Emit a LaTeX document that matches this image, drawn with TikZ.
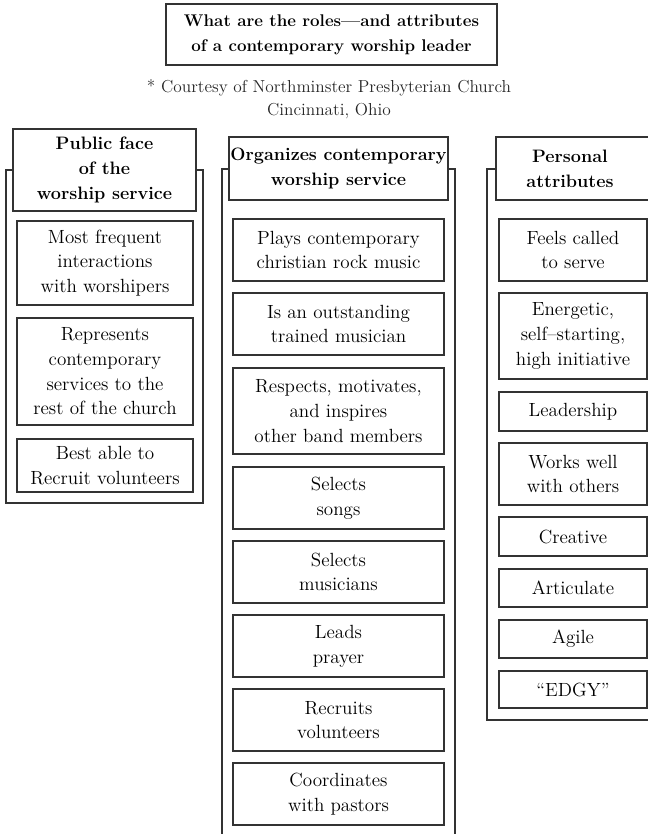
\documentclass[tikz,border=0pt]{standalone}
\tikzset{
  ln/.style={draw=black!80, line width=0.8pt},
  itm/.style={ln, fill=white, inner sep=0pt, align=center, font=\fontsize{14.3}{18.5}\selectfont},
  hdr/.style={itm, font=\bfseries\fontsize{13.5}{18.5}\selectfont},
  ttl/.style={itm, font=\bfseries\fontsize{12.7}{19}\selectfont},
  lbl/.style={inner sep=0pt, align=center, font=\bfseries\fontsize{13.5}{18.5}\selectfont},
  note/.style={inner sep=0pt, align=center, font=\fontsize{13}{17}\selectfont, text=black!85}
}
\newcommand\bx[7][itm]{\node[#1, minimum width={(#5-#3)*0.75pt}, minimum height={(#6-#4)*0.75pt}] (#2) at ({(#3+#5)/2},{(#4+#6)/2}) {#7};}
\begin{document}
\begin{tikzpicture}[x=0.75pt,y=-0.75pt]
\useasboundingbox (0,0) rectangle (648,834);
\clip (0,0) rectangle (648,834);
% title
\bx[ttl]{title}{166}{4}{497}{65}{What are the roles---and attributes\\of a contemporary worship leader}
\node[note] (court) at (329,99) {* Courtesy of Northminster Presbyterian Church\\Cincinnati, Ohio};
% frames
\draw[ln] (6,170) rectangle (203,503);
\draw[ln] (222,845) -- (222,169) -- (455,169) -- (455,845);
\draw[ln] (660,169) -- (487,169) -- (487,720) -- (660,720);
% left column
\bx[hdr]{lh}{13}{129}{196}{211}{Public face\\of the\\worship service}
\bx{l1}{17}{221}{193}{305}{Most frequent\\interactions\\with worshipers}
\bx{l2}{17}{318}{193}{425}{Represents\\contemporary\\services to the\\rest of the church}
\bx{l3}{17}{439}{193}{492}{Best able to\\Recruit volunteers}
% middle column
\bx[hdr]{mh}{229}{137}{448}{200}{Organizes contemporary\\worship service}
\bx{m1}{233}{219}{444}{281}{Plays contemporary\\christian rock music}
\bx{m2}{233}{293}{444}{355}{Is an outstanding\\trained musician}
\bx{m3}{233}{368}{444}{454}{Respects, motivates,\\and inspires\\other band members}
\bx{m4}{233}{467}{444}{529}{Selects\\songs}
\bx{m5}{233}{541}{444}{603}{Selects\\musicians}
\bx{m6}{233}{615}{444}{677}{Leads\\prayer}
\bx{m7}{233}{689}{444}{751}{Recruits\\volunteers}
\bx{m8}{233}{763}{444}{825}{Coordinates\\with pastors}
% right column
\bx[hdr]{rh}{496}{137}{700}{200}{}
\node[lbl] (rht) at (570,168.5) {Personal\\attributes};
\bx{r1}{499}{219}{647}{281}{Feels called\\to serve}
\bx{r2}{499}{293}{647}{379}{Energetic,\\self--starting,\\high initiative}
\bx{r3}{499}{392}{647}{431}{Leadership}
\bx{r4}{499}{443}{647}{505}{Works well\\with others}
\bx{r5}{499}{517}{647}{556}{Creative}
\bx{r6}{499}{569}{647}{607}{Articulate}
\bx{r7}{499}{620}{647}{658}{Agile}
\bx{r8}{499}{671}{647}{708}{``EDGY''}
\end{tikzpicture}
\end{document}
